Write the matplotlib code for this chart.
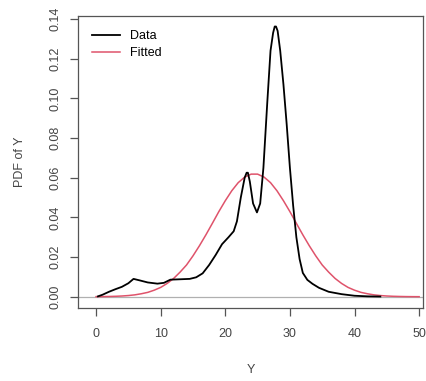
import matplotlib
matplotlib.use("Agg")
import matplotlib.pyplot as plt

# Data density curve
data_x = [0.3, 1, 2, 3, 4, 5, 5.8, 6.8, 8, 9.5, 10.5, 11.5, 13, 14.5, 15.5, 16.5,
          17.5, 18.5, 19.5, 20.5, 21.3, 21.8, 22.4, 23.0, 23.3, 23.5, 23.8, 24.3,
          24.9, 25.4, 25.9, 26.5, 27.0, 27.4, 27.65, 27.85, 28.1, 28.5, 29.0, 29.5,
          30.0, 30.5, 31.0, 31.5, 32.0, 32.7, 33.5, 34.5, 36, 38, 40, 42, 44]
data_y = [0.0002, 0.001, 0.0025, 0.0038, 0.005, 0.0068, 0.0090, 0.0082, 0.0072,
          0.0066, 0.0070, 0.0086, 0.0088, 0.0090, 0.0098, 0.0118, 0.016, 0.021,
          0.0265, 0.030, 0.033, 0.038, 0.050, 0.060, 0.0625, 0.0625, 0.058, 0.047,
          0.0425, 0.047, 0.065, 0.098, 0.124, 0.133, 0.1362, 0.1362, 0.134, 0.124,
          0.107, 0.087, 0.065, 0.046, 0.030, 0.019, 0.012, 0.0085, 0.0065,
          0.0045, 0.0025, 0.0013, 0.0005, 0.0002, 0.0001]

# Fitted curve
fit_x = list(range(0, 51))
fit_y = [0.00004, 0.00007, 0.00013, 0.00022, 0.00037, 0.0006, 0.00095, 0.0015,
         0.0022, 0.0033, 0.0047, 0.0067, 0.0092, 0.0124, 0.016, 0.0206, 0.0257,
         0.0312, 0.037, 0.0429, 0.0484, 0.0534, 0.0575, 0.0603, 0.0618, 0.0618,
         0.0603, 0.0575, 0.0534, 0.0484, 0.0429, 0.037, 0.0312, 0.0257, 0.0206,
         0.016, 0.0124, 0.0092, 0.0067, 0.0047, 0.0033, 0.0022, 0.0015, 0.00095,
         0.0006, 0.00037, 0.00022, 0.00013, 0.00007, 0.00004, 0.00002]

x_ticks = [0, 10, 20, 30, 40, 50]
y_ticks = [0.00, 0.02, 0.04, 0.06, 0.08, 0.10, 0.12, 0.14]

plt.rcParams['font.family'] = ['Liberation Sans', 'DejaVu Sans']

fig = plt.figure(figsize=(4.26, 3.81), dpi=100)
ax = fig.add_axes([0.183, 0.192, 0.810, 0.766])

ax.axhline(0, color='#b0b0b0', lw=0.9, zorder=1)
ax.plot(fit_x, fit_y, color='#DF536B', lw=1.1, label='Fitted', zorder=2)
ax.plot(data_x, data_y, color='black', lw=1.3, label='Data', zorder=3)

ax.set_xlim(-2.8, 50.6)
ax.set_ylim(-0.0056, 0.1415)
ax.set_xticks(x_ticks)
ax.set_xticklabels([str(t) for t in x_ticks])
ax.set_yticks(y_ticks)
ax.set_yticklabels([f'{t:.2f}' for t in y_ticks], rotation=90, va='center')

for s in ax.spines.values():
    s.set_color('#555555')
    s.set_linewidth(0.9)
ax.tick_params(colors='#555555', labelcolor='#444444', length=5.5, width=0.9,
               labelsize=9)
ax.tick_params(axis='x', pad=9)
ax.tick_params(axis='y', pad=6)

ax.set_xlabel('Y', fontsize=9, color='#444444', labelpad=17)
ax.set_ylabel('PDF of Y', fontsize=9, color='#444444', labelpad=17)

handles, labels = ax.get_legend_handles_labels()
ax.legend(handles[::-1], labels[::-1], loc='upper left', frameon=False,
          fontsize=9, handlelength=2.2, borderaxespad=0.75,
          labelspacing=0.4)

fig.savefig('out.png', dpi=100)
